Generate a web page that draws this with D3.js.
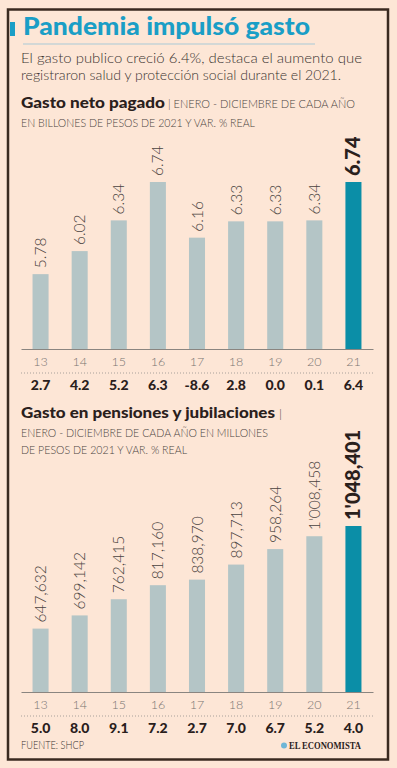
<!DOCTYPE html>
<html>
<head>
<meta charset="utf-8">
<script src="https://cdn.jsdelivr.net/npm/d3@7"></script>
<style>
  html, body { margin: 0; padding: 0; background: #fde6d6; }
  svg { display: block; }
</style>
</head>
<body>
<div id="chart"></div>
<script>
// Data
const years = ["13", "14", "15", "16", "17", "18", "19", "20", "21"];
const gastoNeto = [5.78, 6.02, 6.34, 6.74, 6.16, 6.33, 6.33, 6.34, 6.74];
const gastoNetoLabels = ["5.78", "6.02", "6.34", "6.74", "6.16", "6.33", "6.33", "6.34", "6.74"];
const gastoNetoVar = ["2.7", "4.2", "5.2", "6.3", "-8.6", "2.8", "0.0", "0.1", "6.4"];
const pensiones = [647632, 699142, 762415, 817160, 838970, 897713, 958264, 1008458, 1048401];
const pensionesLabels = ["647,632", "699,142", "762,415", "817,160", "838,970", "897,713", "958,264", "1'008,458", "1'048,401"];
const pensionesVar = ["5.0", "8.0", "9.1", "7.2", "2.7", "7.0", "6.7", "5.2", "4.0"];

const W = 397, H = 768;
const bg = "#fde6d6", barGray = "#b4c5c6", barTeal = "#0b8ea7", titleBlue = "#1a9ec6";
const font = "Lato, 'Open Sans', sans-serif";

const svg = d3.select("#chart")
    .append("svg")
    .attr("width", W)
    .attr("height", H);

svg.append("rect").attr("width", W).attr("height", H).attr("fill", bg);

// Frame
svg.append("rect")
    .attr("x", 8).attr("y", 9.5)
    .attr("width", 380).attr("height", 750)
    .attr("fill", "none")
    .attr("stroke", "#3a2a20")
    .attr("stroke-width", 2.5);

// Title
svg.append("rect").attr("x", 10).attr("y", 22).attr("width", 5).attr("height", 14).attr("fill", titleBlue);
svg.append("text")
    .attr("x", 23).attr("y", 35)
    .attr("font-family", font).attr("font-weight", 900).attr("font-size", 25)
    .attr("fill", titleBlue)
    .attr("textLength", 287).attr("lengthAdjust", "spacingAndGlyphs")
    .text("Pandemia impulsó gasto");
svg.append("line")
    .attr("x1", 23).attr("x2", 315).attr("y1", 44).attr("y2", 44)
    .attr("stroke", "#a9c9d6").attr("stroke-width", 1);

// Subtitle
const sub = [
    {t: "El gasto publico creció 6.4%, destaca el aumento que", y: 63, w: 341},
    {t: "registraron salud y protección social durante el 2021.", y: 80, w: 320}
];
sub.forEach(s => {
    svg.append("text")
        .attr("x", 21).attr("y", s.y)
        .attr("font-family", font).attr("font-weight", 300).attr("font-size", 14)
        .attr("fill", "#3a3330")
        .attr("textLength", s.w).attr("lengthAdjust", "spacingAndGlyphs")
        .text(s.t);
});

// Section headers
function boldText(x, y, t, w) {
    svg.append("text")
        .attr("x", x).attr("y", y)
        .attr("font-family", font).attr("font-weight", 900).attr("font-size", 15)
        .attr("fill", "#2a201c")
        .attr("textLength", w).attr("lengthAdjust", "spacingAndGlyphs")
        .text(t);
}
function smallText(x, y, t, w) {
    svg.append("text")
        .attr("x", x).attr("y", y)
        .attr("font-family", font).attr("font-weight", 300).attr("font-size", 11)
        .attr("fill", "#4a4340")
        .attr("textLength", w).attr("lengthAdjust", "spacingAndGlyphs")
        .text(t);
}
boldText(21, 108, "Gasto neto pagado", 144);
smallText(168, 108, "| ENERO - DICIEMBRE DE CADA AÑO", 187);
smallText(21, 127, "EN BILLONES DE PESOS DE 2021 Y VAR. % REAL", 234);

boldText(21, 418, "Gasto en pensiones y jubilaciones", 254);
smallText(279, 418, "|", 3);
smallText(21, 437, "ENERO - DICIEMBRE DE CADA AÑO EN MILLONES", 247);
smallText(21, 454, "DE PESOS DE 2021 Y VAR. % REAL", 166);

// X scale shared
const x = d3.scaleBand()
    .domain(years)
    .range([21, 373])
    .paddingInner(0.59)
    .paddingOuter(0.295);

function drawChart(cfg) {
    const y = d3.scaleLinear().domain(cfg.domain).range([cfg.base, cfg.topY]);
    const g = svg.append("g");

    g.selectAll("rect.bar")
        .data(cfg.values)
        .enter()
        .append("rect")
        .attr("class", "bar")
        .attr("x", (d, i) => x(years[i]))
        .attr("width", x.bandwidth())
        .attr("y", d => y(d))
        .attr("height", d => cfg.base - y(d))
        .attr("fill", (d, i) => i === years.length - 1 ? barTeal : barGray);

    // Value labels (rotated)
    g.selectAll("text.val")
        .data(cfg.values)
        .enter()
        .append("text")
        .attr("class", "val")
        .attr("transform", (d, i) => {
            const cx = x(years[i]) + x.bandwidth() / 2 + (i === years.length - 1 ? 7 : 5.5);
            return `translate(${cx},${y(d) - 6}) rotate(-90)`;
        })
        .attr("font-family", font)
        .attr("font-weight", (d, i) => i === years.length - 1 ? 900 : 300)
        .attr("font-size", (d, i) => i === years.length - 1 ? 20 : 15.5)
        .attr("fill", (d, i) => i === years.length - 1 ? "#2a201c" : "#4a4340")
        .text((d, i) => cfg.labels[i]);

    // Axis
    const axis = g.append("g")
        .attr("transform", `translate(0,${cfg.base})`)
        .call(d3.axisBottom(x).tickSize(0).tickPadding(8.5));
    axis.select(".domain").attr("stroke", "#8a8580").attr("stroke-width", 1);
    axis.selectAll("text")
        .attr("font-family", font).attr("font-weight", 300).attr("font-size", 12.5)
        .attr("fill", "#7a7572");

    // Dotted separator
    g.append("line")
        .attr("x1", 21).attr("x2", 373)
        .attr("y1", cfg.base + 24).attr("y2", cfg.base + 24)
        .attr("stroke", "#a8a09a").attr("stroke-width", 1)
        .attr("stroke-dasharray", "1,2");

    // Var % values
    g.selectAll("text.var")
        .data(cfg.vars)
        .enter()
        .append("text")
        .attr("class", "var")
        .attr("x", (d, i) => x(years[i]) + x.bandwidth() / 2)
        .attr("y", cfg.base + 41)
        .attr("text-anchor", "middle")
        .attr("font-family", font).attr("font-weight", 900).attr("font-size", 14)
        .attr("fill", "#2a201c")
        .text(d => d);
}

drawChart({values: gastoNeto, labels: gastoNetoLabels, vars: gastoNetoVar, domain: [5, 6.74], base: 349, topY: 182});
drawChart({values: pensiones, labels: pensionesLabels, vars: pensionesVar, domain: [400000, 1048401], base: 692, topY: 526});

// Footer
svg.append("text")
    .attr("x", 21).attr("y", 749)
    .attr("font-family", font).attr("font-weight", 300).attr("font-size", 11)
    .attr("fill", "#3a3330")
    .attr("textLength", 63).attr("lengthAdjust", "spacingAndGlyphs")
    .text("FUENTE: SHCP");

svg.append("circle").attr("cx", 284).attr("cy", 745.5).attr("r", 3).attr("fill", "#6fb6d6");
svg.append("text")
    .attr("x", 289).attr("y", 749)
    .attr("font-family", "'Liberation Serif', serif").attr("font-weight", 700).attr("font-size", 10.5)
    .attr("fill", "#2a201c")
    .attr("textLength", 72).attr("lengthAdjust", "spacingAndGlyphs")
    .text("EL ECONOMISTA");
</script>
</body>
</html>
